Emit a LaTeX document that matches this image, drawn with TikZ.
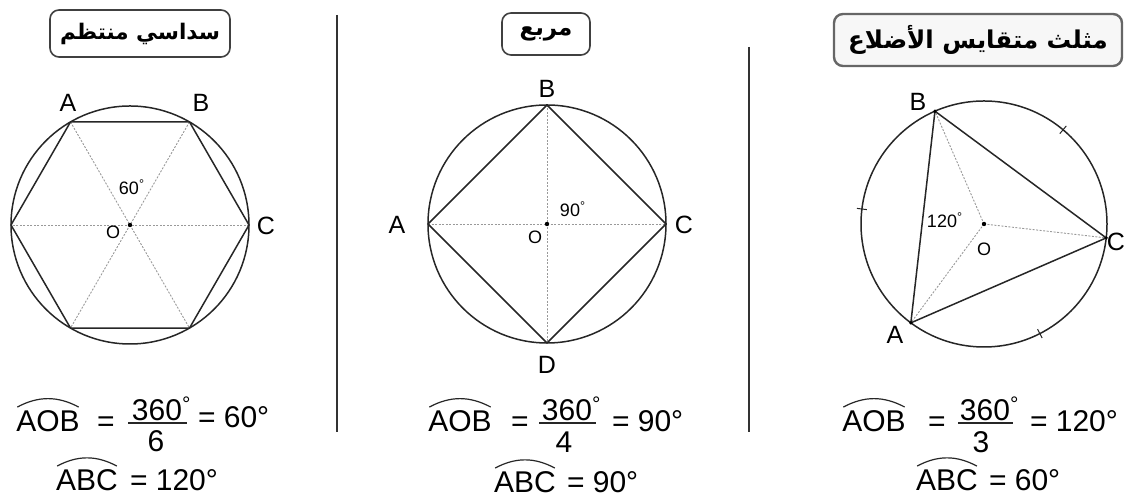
\documentclass[tikz,border=0pt]{standalone}
\usepackage{fontspec}
\setmainfont{Liberation Sans}
\newfontfamily\arabicfont[Script=Arabic]{DejaVu Sans}
\TeXXeTstate=1
\begin{document}
\begin{tikzpicture}[x=1pt,y=1pt,
  every node/.style={inner sep=0pt, outer sep=0pt},
  circ/.style={line width=1.5pt, draw=black!85},
  poly/.style={line width=1.5pt, draw=black!85, line join=round},
  guide/.style={draw=black!40, line width=0.9pt, dash pattern=on 2pt off 1.5pt},
  ptlabel/.style={font=\fontsize{25}{27}\selectfont},
  smalllabel/.style={font=\fontsize{18}{20}\selectfont},
  formula/.style={font=\fontsize{30}{33}\selectfont, anchor=base},
  formulaw/.style={font=\fontsize{30}{33}\selectfont, anchor=base west},
  hat/.style={line width=1.2pt, draw=black!85},
  fracbar/.style={line width=1.8pt, draw=black!85},
  titlebox/.style={draw=black!75, line width=1.6pt, rounded corners=9pt, fill=white},
  sepline/.style={line width=2pt, draw=black!80},
  tickmark/.style={line width=1pt, draw=black!85},
]
\useasboundingbox (0,0) rectangle (1125,502);

% ---------- titles ----------
\node[titlebox, minimum width=180pt, minimum height=47pt,
      font=\arabicfont\bfseries\fontsize{21.5}{26}\selectfont] (t1) at (140,468.5) {\beginR سداسي منتظم\endR};
\node[titlebox, minimum width=88pt, minimum height=42pt,
      font=\arabicfont\bfseries\fontsize{23}{26}\selectfont] (t2) at (546,468) {\beginR مربع\endR};
\node[titlebox, draw=black!60, line width=2.4pt, fill=gray!6, minimum width=288pt, minimum height=52pt,
      font=\arabicfont\bfseries\fontsize{24.5}{28}\selectfont] (t3) at (978,462) {\beginR مثلث متقايس الأضلاع\endR};

% ---------- separators ----------
\coordinate (s1t) at (337,487); \coordinate (s1b) at (337,70);
\coordinate (s2t) at (749,455); \coordinate (s2b) at (749,70);
\draw[sepline] (s1t) -- (s1b);
\draw[sepline] (s2t) -- (s2b);

% ---------- hexagon ----------
\coordinate (O1) at (130,277);
\foreach \i in {0,...,5} { \path (O1) ++(60*\i:119) coordinate (H\i); }
\draw[guide] (H0) -- (H3);
\draw[guide] (H1) -- (H4);
\draw[guide] (H2) -- (H5);
\draw[circ] (O1) circle (119);
\draw[poly] (H0) -- (H1) -- (H2) -- (H3) -- (H4) -- (H5) -- cycle;
\fill (O1) circle (2.2);
\node[ptlabel] (lA1) at (68,399) {A};
\node[ptlabel] (lB1) at (201,399) {B};
\node[ptlabel] (lC1) at (266,276) {C};
\node[smalllabel] (ang1) at (129,315) {60\rlap{\textsuperscript{°}}};
\node[smalllabel] (lO1) at (113,270) {O};

% ---------- square ----------
\coordinate (O2) at (547,278);
\path (O2) ++(0:119) coordinate (C2);
\path (O2) ++(90:119) coordinate (B2);
\path (O2) ++(180:119) coordinate (A2);
\path (O2) ++(270:119) coordinate (D2);
\draw[guide] (A2) -- (C2);
\draw[guide] (B2) -- (D2);
\draw[circ] (O2) circle (119);
\draw[poly] (A2) -- (B2) -- (C2) -- (D2) -- cycle;
\fill (O2) circle (2.2);
\node[ptlabel] (lB2) at (547,413) {B};
\node[ptlabel] (lD2) at (547,137) {D};
\node[ptlabel] (lA2) at (397,277) {A};
\node[ptlabel] (lC2) at (684,277) {C};
\node[smalllabel] (ang2) at (570,293) {90\rlap{\textsuperscript{°}}};
\node[smalllabel] (lO2) at (535,265) {O};

% ---------- triangle ----------
\coordinate (O3) at (984,278);
\path (O3) ++(113.5:123) coordinate (B3);
\path (O3) ++(-6.5:123) coordinate (C3);
\path (O3) ++(233.5:123) coordinate (A3);
\draw[guide] (O3) -- (A3);
\draw[guide] (O3) -- (B3);
\draw[guide] (O3) -- (C3);
\draw[circ] (O3) circle (123);
\draw[poly] (A3) -- (B3) -- (C3) -- cycle;
\foreach \a in {50,173,-63} { \draw[tickmark] (O3) ++(\a:118) -- ++(\a:10); }
\fill (O3) circle (2.2);
\fill (B3) circle (1.8);
\fill (C3) circle (1.8);
\fill (A3) circle (1.8);
\node[ptlabel] (lB3) at (918,400) {B};
\node[ptlabel] (lC3) at (1116,260) {C};
\node[ptlabel] (lA3) at (895,167) {A};
\node[smalllabel] (ang3) at (942,282) {120\rlap{\textsuperscript{°}}};
\node[smalllabel] (lO3) at (984,253) {O};

% ---------- formulas: hexagon ----------
\node[formula] (f1a) at (48,70) {AOB};
\draw[hat] ([xshift=1pt,yshift=4pt]f1a.north west) to[bend left=28] ([xshift=-1pt,yshift=4pt]f1a.north east);
\node[formula] (f1eq) at (106,70) {=};
\node[formula] (f1n) at (157,81) {360\rlap{\textsuperscript{°}}};
\node[formula] (f1d) at (156,50) {6};
\coordinate (f1bl) at (128,79); \coordinate (f1br) at (187,79);
\draw[fracbar] (f1bl) -- (f1br);
\node[formulaw] (f1r) at (198,74) {= 60°};
\node[formula] (f2a) at (87,11) {ABC};
\draw[hat] ([xshift=1pt,yshift=4pt]f2a.north west) to[bend left=28] ([xshift=-1pt,yshift=4pt]f2a.north east);
\node[formulaw] (f2r) at (130,11) {= 120°};

% ---------- formulas: square ----------
\node[formula] (g1a) at (460,70) {AOB};
\draw[hat] ([xshift=1pt,yshift=4pt]g1a.north west) to[bend left=28] ([xshift=-1pt,yshift=4pt]g1a.north east);
\node[formula] (g1eq) at (520,70) {=};
\node[formula] (g1n) at (567,81) {360\rlap{\textsuperscript{°}}};
\node[formula] (g1d) at (564,49) {4};
\coordinate (g1bl) at (539,79); \coordinate (g1br) at (596,79);
\draw[fracbar] (g1bl) -- (g1br);
\node[formulaw] (g1r) at (612,70) {= 90°};
\node[formula] (g2a) at (525,9) {ABC};
\draw[hat] ([xshift=1pt,yshift=4pt]g2a.north west) to[bend left=28] ([xshift=-1pt,yshift=4pt]g2a.north east);
\node[formulaw] (g2r) at (567,9) {= 90°};

% ---------- formulas: triangle ----------
\node[formula] (h1a) at (874,70) {AOB};
\draw[hat] ([xshift=1pt,yshift=4pt]h1a.north west) to[bend left=28] ([xshift=-1pt,yshift=4pt]h1a.north east);
\node[formula] (h1eq) at (937,70) {=};
\node[formula] (h1n) at (985,81) {360\rlap{\textsuperscript{°}}};
\node[formula] (h1d) at (981,49) {3};
\coordinate (h1bl) at (958,79); \coordinate (h1br) at (1013,79);
\draw[fracbar] (h1bl) -- (h1br);
\node[formulaw] (h1r) at (1030,70) {= 120°};
\node[formula] (h2a) at (947,11) {ABC};
\draw[hat] ([xshift=1pt,yshift=4pt]h2a.north west) to[bend left=28] ([xshift=-1pt,yshift=4pt]h2a.north east);
\node[formulaw] (h2r) at (989,11) {= 60°};
\end{tikzpicture}
\end{document}
